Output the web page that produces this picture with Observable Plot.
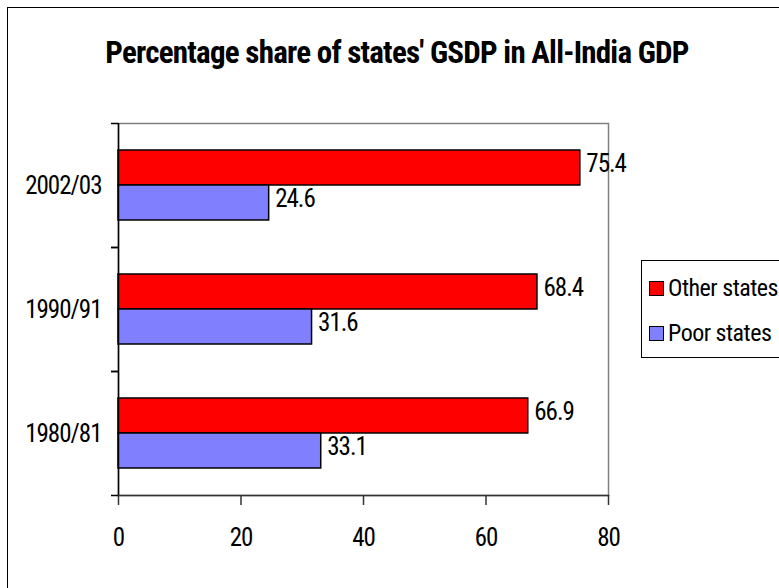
<!DOCTYPE html>
<html>
<head>
<meta charset="utf-8">
<script src="https://cdn.jsdelivr.net/npm/d3@7"></script>
<script src="https://cdn.jsdelivr.net/npm/@observablehq/plot@0.6"></script>
<style>
  html, body { margin: 0; padding: 0; background: #fff; }
  #wrap { position: relative; width: 779px; height: 588px; overflow: hidden;
    font-family: Roboto, sans-serif; font-stretch: condensed; }
  #border { position: absolute; left: 7px; top: 7px; width: 800px; height: 600px;
    border-left: 1px solid #000; border-top: 1px solid #000; }
  #title { position: absolute; left: 0; width: 794px; top: 33px; text-align: center;
    font-weight: bold; font-size: 31px; letter-spacing: -0.75px; line-height: 40px; color: #000; white-space: nowrap; }
  #chart { position: absolute; left: 0; top: 0; }
  #legend { position: absolute; left: 641px; top: 260px; width: 160px; height: 96px;
    border: 1px solid #000; background: #fff; }
  .item { position: absolute; left: 7px; height: 30px; display: flex; align-items: center;
    font-size: 24px; letter-spacing: -0.5px; color: #000; white-space: nowrap; }
  .sw { width: 13px; height: 13px; border: 1.5px solid #000; margin-right: 4px; }
</style>
</head>
<body>
<div id="wrap">
  <div id="border"></div>
  <div id="title"></div>
  <div id="chart"></div>
  <div id="legend"></div>
</div>
<script>
const titleText = "Percentage share of states' GSDP in All-India GDP";
const years = ["2002/03", "1990/91", "1980/81"];
const otherStates = [75.4, 68.4, 66.9];
const poorStates = [24.6, 31.6, 33.1];
const seriesNames = ["Other states", "Poor states"];
const seriesColors = ["#FF0000", "#8080FF"];
const xTicks = [0, 20, 40, 60, 80];

const otherData = years.map((y, i) => ({year: y, series: seriesNames[0], value: otherStates[i]}));
const poorData = years.map((y, i) => ({year: y, series: seriesNames[1], value: poorStates[i]}));

document.getElementById("title").textContent = titleText;

const chart = Plot.plot({
  width: 779,
  height: 588,
  marginLeft: 118,
  marginRight: 171,
  marginTop: 123,
  marginBottom: 93,
  style: {fontFamily: "Roboto, sans-serif", fontStretch: "condensed", fontSize: "25px", letterSpacing: "-1px", color: "#000", background: "transparent", overflow: "visible"},
  x: {domain: [0, 80], ticks: xTicks, label: null},
  y: {domain: years, padding: 0, label: null},
  color: {domain: seriesNames, range: seriesColors},
  marks: [
    Plot.frame({stroke: "#808080", strokeWidth: 1.5}),
    Plot.barX(otherData, {x: "value", y: "year", fill: "series", stroke: "#000", strokeWidth: 1.5, insetTop: 27, insetBottom: 62}),
    Plot.barX(poorData, {x: "value", y: "year", fill: "series", stroke: "#000", strokeWidth: 1.5, insetTop: 62, insetBottom: 27}),
    Plot.text(otherData, {x: "value", y: "year", text: d => d.value.toFixed(1), dx: 6, dy: -22, textAnchor: "start", fill: "#000"}),
    Plot.text(poorData, {x: "value", y: "year", text: d => d.value.toFixed(1), dx: 6, dy: 13, textAnchor: "start", fill: "#000"}),
    Plot.ruleX([0], {stroke: "#000", strokeWidth: 1.5}),
    Plot.frame({anchor: "bottom", stroke: "#333", strokeWidth: 1.5}),
    Plot.axisX({ticks: xTicks, tickSize: 10, tickPadding: 23, stroke: "#333", strokeWidth: 1.5, label: null}),
    Plot.axisY({tickSize: 0, tickPadding: 17, label: null}),
    Plot.axisY({tickSize: 7, dy: -62, tickFormat: () => "", stroke: "#000", strokeWidth: 1.5, label: null}),
    Plot.axisY({tickSize: 7, dy: 62, tickFormat: () => "", stroke: "#000", strokeWidth: 1.5, label: null})
  ]
});
document.getElementById("chart").appendChild(chart);

const legend = document.getElementById("legend");
seriesNames.forEach((name, i) => {
  const item = document.createElement("div");
  item.className = "item";
  item.style.top = (12 + i * 45) + "px";
  const sw = document.createElement("div");
  sw.className = "sw";
  sw.style.background = chart.scale("color").apply(name);
  const t = document.createElement("span");
  t.textContent = name;
  item.appendChild(sw);
  item.appendChild(t);
  legend.appendChild(item);
});
</script>
</body>
</html>
